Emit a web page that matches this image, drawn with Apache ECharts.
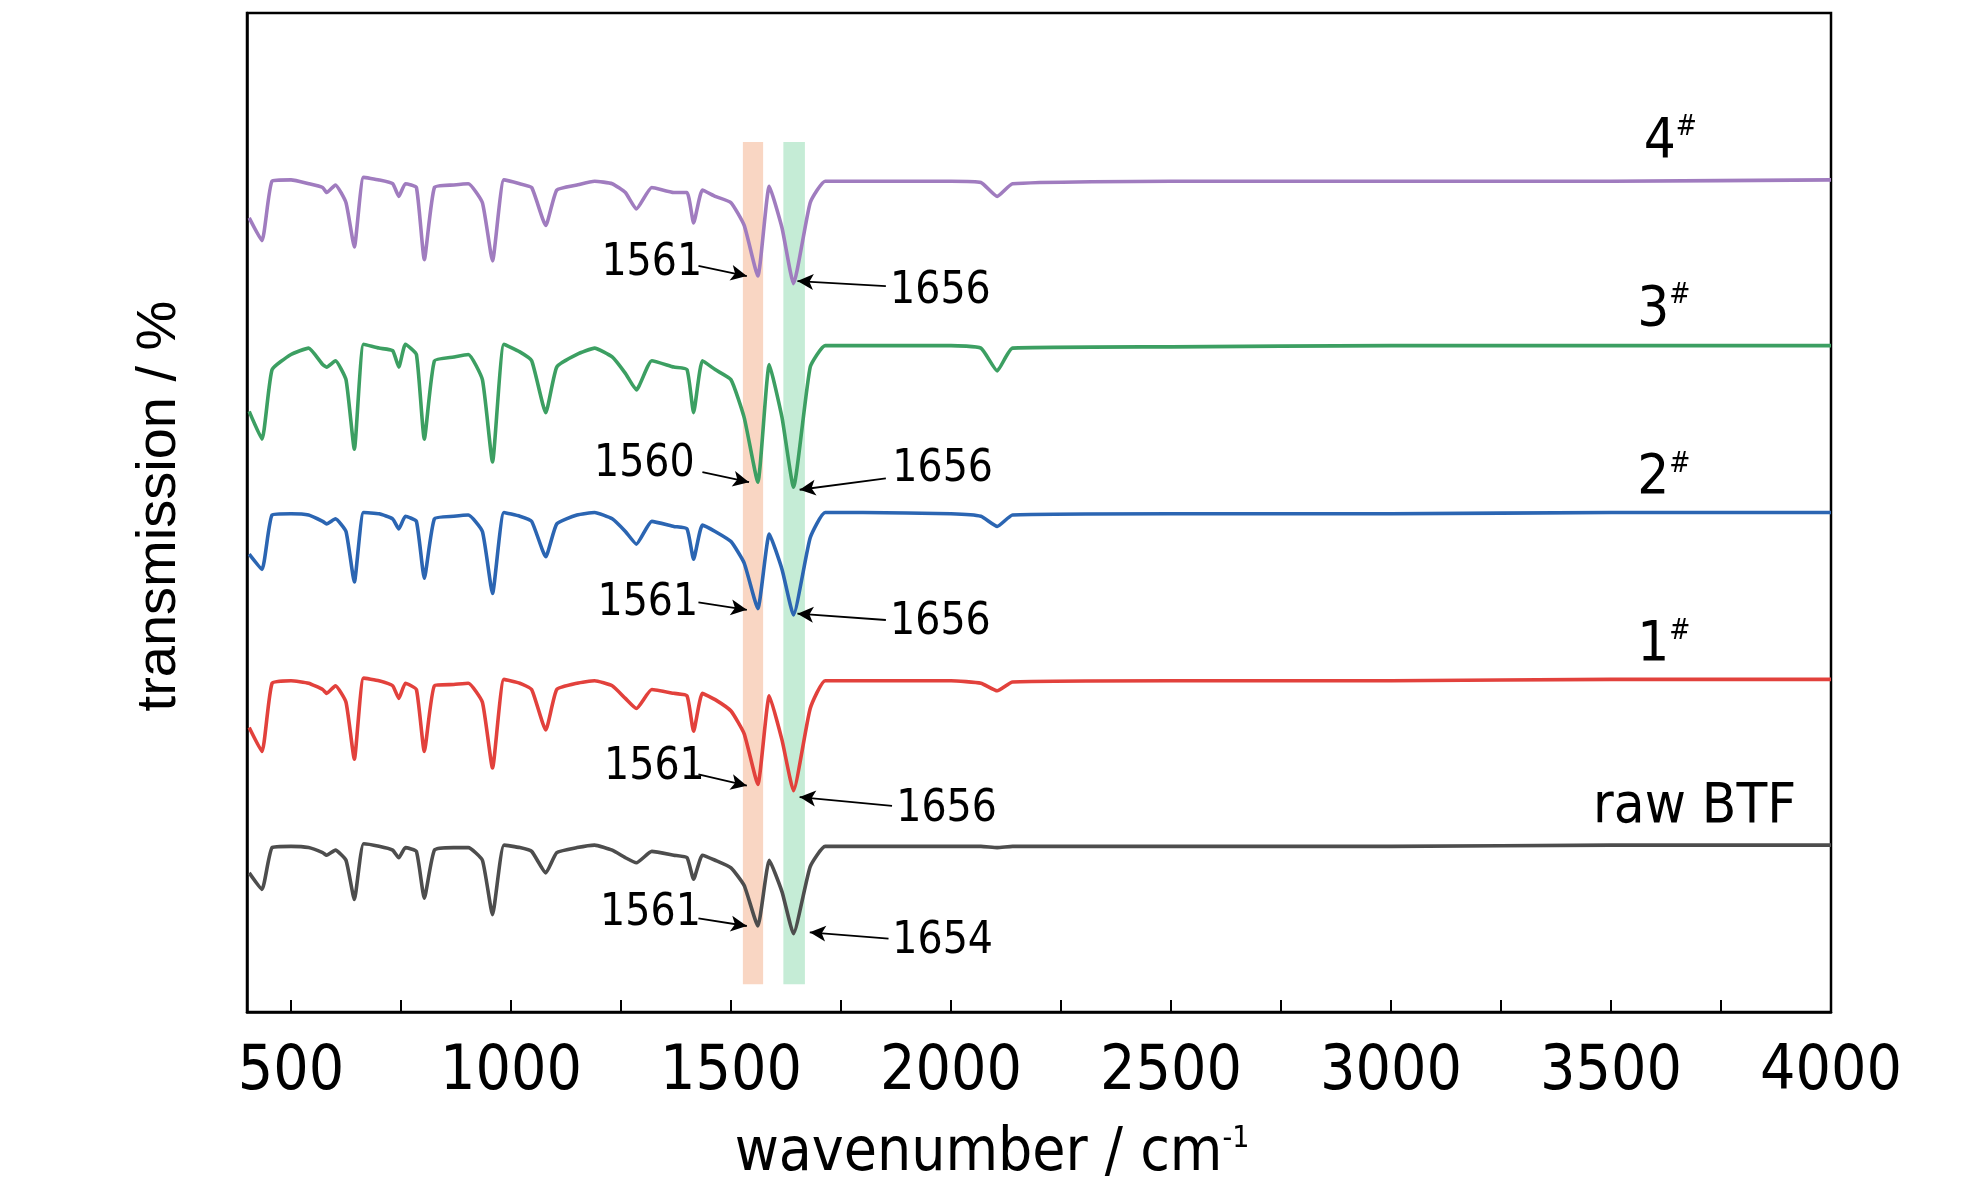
<!DOCTYPE html>
<html><head><meta charset="utf-8">
<script src="https://cdn.jsdelivr.net/npm/echarts@6/dist/echarts.min.js"></script>
<style>html,body{margin:0;background:#fff}#c{width:1984px;height:1181px}</style>
</head><body><div id="c"></div>
<script>
// wavenumber positions (cm-1)
var wn = [405,434,457,500,540,572,581,601,625,644,665,700,731,745,760,785,803,826,870,903,935,958,984,1020,1047,1079,1104,1150,1190,1230,1260,1285,1320,1370,1400,1415,1435,1464,1500,1530,1561,1587,1616,1642,1680,1714,1800,2000,2068,2105,2140,2500,3000,3500,4000];
// read positions on the (unlabelled, stacked) transmission axis, downward = lower transmission
var s4 = [172,190,143,142,145,148,152,146,160,195,140,142,145,155,145,148,205,148,146,145,160,206,142,145,148,178,150,146,143,145,152,165,148,152,152,176,150,155,160,178,218,147,180,224,160,143,143,143,144,155,145,143,143,143,142];
var s3 = [325,347,292,280,275,288,290,285,300,355,272,275,277,290,272,280,347,285,282,280,300,365,272,278,285,326,290,280,275,282,295,308,285,290,292,326,285,292,300,330,381,288,330,385,290,273,273,273,275,293,275,274,273,273,273];
var s2 = [438,450,407,406,407,412,414,410,420,460,405,406,410,418,408,412,457,410,408,407,420,469,405,408,412,440,414,407,405,410,420,430,412,416,418,442,415,420,428,445,481,422,450,486,425,405,405,406,408,416,407,406,406,405,405];
var s1 = [575,594,540,538,540,545,548,542,555,600,536,538,542,552,540,545,594,542,541,540,555,607,537,540,545,577,545,540,538,542,552,560,545,548,550,578,548,553,562,580,620,550,585,625,560,538,538,538,540,546,539,538,538,537,537];
var s0 = [690,703,670,669,670,674,676,672,680,711,667,669,672,678,670,673,710,672,670,670,680,723,668,670,673,690,674,670,668,672,678,682,673,676,678,695,676,680,686,700,732,680,705,738,685,669,669,669,669,670,669,669,669,668,668];
var names = ['4#','3#','2#','1#','raw BTF'];
var colors = ['#a07cbf','#3c9f62','#2b65b2','#e2413c','#4d4d4d'];
// peak annotations: [text, textX, textY, tailX, tailY, headX, headY]
var notesL = [['1561',1320,208,1426,210,1536,218],['1560',1303,367,1435,373,1541,381],['1561',1311,477,1426,476,1536,482],['1561',1326,607,1426,612,1536,621],['1561',1317,722,1426,726,1536,732]];
var notesR = [['1656',1976,230,1852,226,1651,222],['1656',1981,371,1852,378,1656,387],['1656',1976,492,1852,490,1651,485],['1656',1990,640,1866,637,1656,630],['1654',1981,744,1858,742,1679,737]];
var tagPos = [[3635,112],[3620,245],[3620,378],[3620,510],[3690,638]];
var allY = [s4,s3,s2,s1,s0];

var chart = echarts.init(document.getElementById('c'));
var FN = '"DejaVu Sans Condensed","Liberation Sans Narrow",sans-serif';
var series = allY.map(function (ys, i) {
  var pts = wn.map(function (x, k) { return [x, ys[k]]; });
  var s = {
    type: 'line', data: pts, showSymbol: false, smooth: 0.15,
    lineStyle: { color: colors[i], width: 3.6 }, z: 3,
    markLine: {
      silent: true, symbolSize: [12, 16],
      lineStyle: { color: '#000', width: 1.8, type: 'solid' },
      label: { show: false },
      data: [notesL[i], notesR[i]].map(function (n) {
        return [{ coord: [n[3], n[4]], symbol: 'none' }, { coord: [n[5], n[6]], symbol: 'arrow' }];
      })
    },
    markPoint: {
      silent: true, symbolSize: 0,
      label: { show: true, color: '#000', fontFamily: FN, fontSize: 44 },
      data: [notesL[i], notesR[i]].map(function (n) {
        return { coord: [n[1], n[2]], value: n[0], label: { formatter: n[0] } };
      }).concat([{
        coord: tagPos[i], value: names[i],
        label: {
          fontSize: 56,
          formatter: i < 4 ? '{a|' + names[i][0] + '}{b|#}' : names[i],
          rich: { a: { fontSize: 56, fontFamily: FN, color: '#000' },
                  b: { fontSize: 28, fontFamily: FN, color: '#000', verticalAlign: 'top', padding: [0, 0, 24, 0] } }
        }
      }])
    }
  };
  if (i === 0) {
    s.markArea = {
      silent: true,
      data: [
        [{ xAxis: 1527, yAxis: 112, itemStyle: { color: 'rgba(244,180,145,0.55)' } }, { xAxis: 1573, yAxis: 778 }],
        [{ xAxis: 1619, yAxis: 112, itemStyle: { color: 'rgba(150,220,180,0.55)' } }, { xAxis: 1668, yAxis: 778 }]
      ]
    };
  }
  return s;
});

var option = {
  animation: false,
  backgroundColor: '#fff',
  grid: { left: 247, right: 153, top: 13, bottom: 169, show: true, borderColor: '#000', borderWidth: 2.5 },
  xAxis: {
    type: 'value', min: 400, max: 4000,
    axisLine: { lineStyle: { color: '#000', width: 2.5 } },
    axisTick: { inside: true, length: 12, lineStyle: { color: '#000', width: 2 },
                customValues: [500,750,1000,1250,1500,1750,2000,2250,2500,2750,3000,3250,3500,3750] },
    axisLabel: { customValues: [500,1000,1500,2000,2500,3000,3500,4000], formatter: function (v) { return String(v); },
                 color: '#000', fontSize: 62, fontFamily: FN, margin: 30 },
    splitLine: { show: false }
  },
  yAxis: {
    type: 'value', min: 10, max: 800, inverse: true,
    axisLine: { show: true, lineStyle: { color: '#000', width: 2.5 } },
    axisTick: { show: false }, axisLabel: { show: false }, splitLine: { show: false }
  },
  graphic: [
    { type: 'text', left: 'center', top: 1124, style: { text: '{m|wavenumber / cm}{s|-1}', rich: {
        m: { fontSize: 60, fontFamily: FN, fill: '#000' },
        s: { fontSize: 30, fontFamily: FN, fill: '#000', verticalAlign: 'top', padding: [0, 0, 30, 0] } } } },
    { type: 'text', x: 160, y: 506, rotation: Math.PI / 2, style: { text: 'transmission / %', fontSize: 56,
        fontFamily: 'Liberation Sans, Arial, sans-serif', fill: '#000', align: 'center', verticalAlign: 'middle' } }
  ],
  series: series
};
option && chart.setOption(option);
</script></body></html>
